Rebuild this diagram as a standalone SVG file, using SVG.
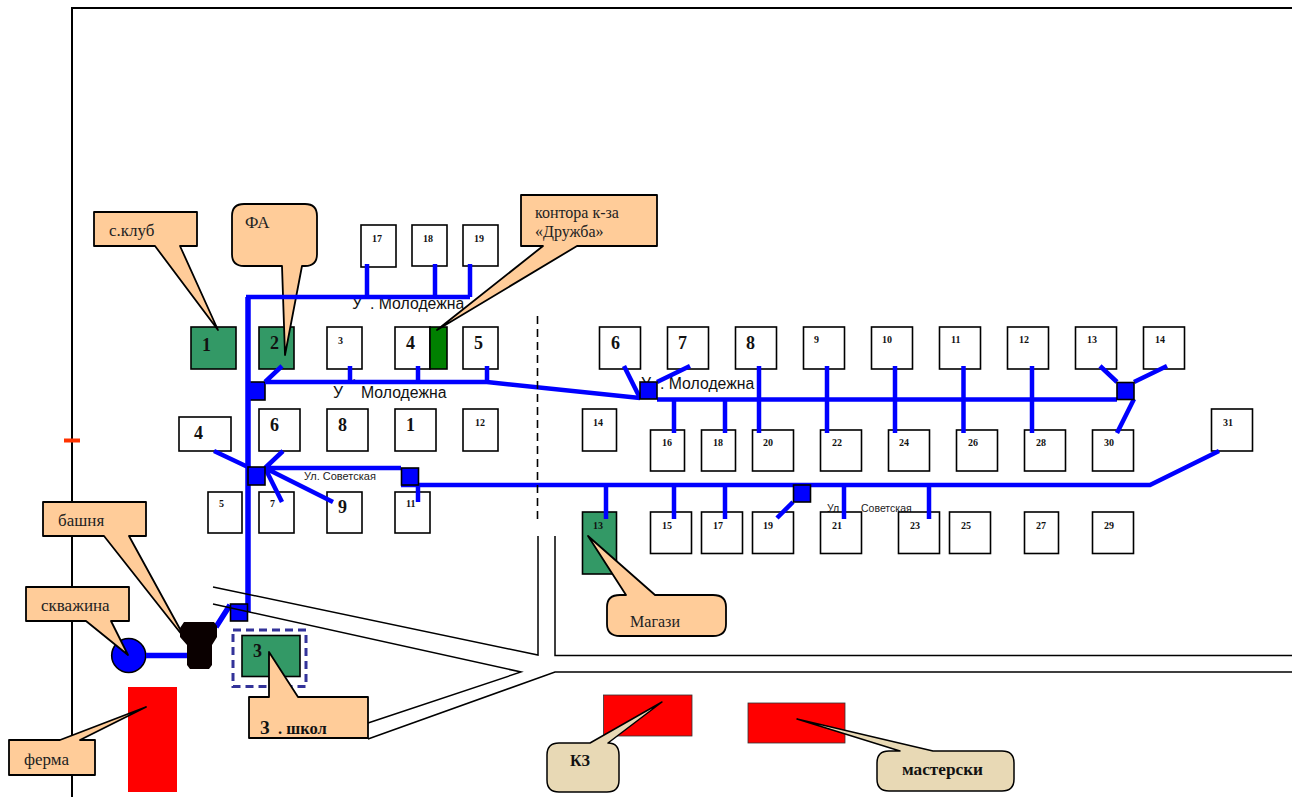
<svg xmlns="http://www.w3.org/2000/svg" width="1292" height="797" viewBox="0 0 1292 797">
<style>
.ln{fill:none;stroke:#000;stroke-width:2}
.h{fill:#fff;stroke:#000;stroke-width:1.6}
.g{fill:#339966;stroke:#000;stroke-width:1.6}
.r{fill:#f00}
.c{fill:#ffcc99;stroke:#000;stroke-width:1.8;stroke-linejoin:round}
.e{fill:#e8d9b5;stroke:#000;stroke-width:1.5;stroke-linejoin:round}
.p{fill:none;stroke:#00f;stroke-width:4.5}
.m{fill:none;stroke:#00f;stroke-width:5.5}
.j{fill:#00f;stroke:#000;stroke-width:1.6}
.b{font:bold 18px "Liberation Serif",serif;fill:#111}
.s{font:bold 10px "Liberation Serif",serif;fill:#111}
.l{font:17px "Liberation Serif",serif;fill:#222}
.st{font:15.800px "Liberation Sans",sans-serif;fill:#111}
.sm{font:11px "Liberation Sans",sans-serif;fill:#222}
</style>
<g id="frame">
<path class="ln" d="M72 797V8H1292"/>
<path d="M64 440.500H80" stroke="#ff3300" stroke-width="4" fill="none"/>
</g>
<g id="street-labels">
<text class="st" x="352" y="309">У</text>
<text class="st" x="370" y="309">. Молодежна</text>
<text class="st" x="333" y="398">У</text>
<text class="st" x="352" y="381">.</text>
<text class="st" x="361" y="398">Молодежна</text>
<text class="st" x="641" y="389">У</text>
<text class="st" x="660" y="389">. Молодежна</text>
<text class="sm" x="304" y="480">Ул. Советская</text>
<text class="sm" style="font-size:10.500px" x="827" y="512">Ул</text>
<text class="sm" style="font-size:10.500px" x="861" y="512">Советская</text>
</g>
<g id="n-1"><rect class="g" x="191" y="327" width="45" height="42"/><text class="b" x="202" y="351">1</text></g>
<g id="n-2"><rect class="g" x="259" y="327" width="35" height="42"/><text class="b" x="270" y="349">2</text></g>
<g id="n-3"><rect class="h" x="327" y="327" width="35" height="42"/><text class="s" x="338" y="344">3</text></g>
<g id="n-4"><rect class="h" x="395" y="327" width="35" height="42"/><text class="b" x="406" y="349">4</text></g>
<g id="n-kontora"><rect x="430" y="327" width="17" height="42" fill="#008000" stroke="#000" stroke-width="1.600"/></g>
<g id="n-5"><rect class="h" x="463" y="327" width="35" height="42"/><text class="b" x="474" y="349">5</text></g>
<g id="n-17"><rect class="h" x="361" y="225" width="35" height="42"/><text class="s" x="372" y="242">17</text></g>
<g id="n-18"><rect class="h" x="412" y="225" width="35" height="41"/><text class="s" x="423" y="242">18</text></g>
<g id="n-19"><rect class="h" x="463" y="225" width="35" height="41"/><text class="s" x="474" y="242">19</text></g>
<g id="n-4b"><rect class="h" x="179" y="417" width="52" height="34"/><text class="b" x="194" y="439">4</text></g>
<g id="n-6"><rect class="h" x="259" y="409" width="41" height="42"/><text class="b" x="270" y="431">6</text></g>
<g id="n-8"><rect class="h" x="327" y="409" width="41" height="42"/><text class="b" x="338" y="431">8</text></g>
<g id="n-1b"><rect class="h" x="395" y="409" width="41" height="42"/><text class="b" x="406" y="431">1</text></g>
<g id="n-12"><rect class="h" x="463" y="409" width="35" height="42"/><text class="s" x="475" y="426">12</text></g>
<g id="n-5b"><rect class="h" x="208" y="492" width="34" height="41"/><text class="s" x="219" y="507">5</text></g>
<g id="n-7"><rect class="h" x="259" y="492" width="35" height="41"/><text class="s" x="270" y="507">7</text></g>
<g id="n-9"><rect class="h" x="327" y="492" width="35" height="41"/><text class="b" x="338" y="513">9</text></g>
<g id="n-11"><rect class="h" x="395" y="492" width="35" height="41"/><text class="s" x="406" y="507">11</text></g>
<g id="n-6r"><rect class="h" x="599.500" y="327" width="41" height="42"/><text class="b" x="611" y="349">6</text></g>
<g id="n-7r"><rect class="h" x="667.500" y="327" width="41" height="42"/><text class="b" x="678" y="349">7</text></g>
<g id="n-8r"><rect class="h" x="735.500" y="327" width="41" height="42"/><text class="b" x="746" y="349">8</text></g>
<g id="n-9r"><rect class="h" x="803.500" y="327" width="41" height="42"/><text class="s" x="814" y="343">9</text></g>
<g id="n-10r"><rect class="h" x="871.500" y="327" width="41" height="42"/><text class="s" x="882" y="343">10</text></g>
<g id="n-11r"><rect class="h" x="939.500" y="327" width="41" height="42"/><text class="s" x="951" y="343">11</text></g>
<g id="n-12r"><rect class="h" x="1007.500" y="327" width="41" height="42"/><text class="s" x="1019" y="343">12</text></g>
<g id="n-13r"><rect class="h" x="1075.500" y="327" width="41" height="42"/><text class="s" x="1087" y="343">13</text></g>
<g id="n-14r"><rect class="h" x="1143.500" y="327" width="41" height="42"/><text class="s" x="1155" y="343">14</text></g>
<g id="n-14"><rect class="h" x="582.500" y="409" width="34" height="42"/><text class="s" x="593" y="426">14</text></g>
<g id="n-16"><rect class="h" x="650.500" y="430" width="34" height="41"/><text class="s" x="662" y="446">16</text></g>
<g id="n-18r"><rect class="h" x="701.500" y="430" width="34" height="41"/><text class="s" x="713" y="446">18</text></g>
<g id="n-20"><rect class="h" x="752.500" y="430" width="41" height="41"/><text class="s" x="763" y="446">20</text></g>
<g id="n-22"><rect class="h" x="820.500" y="430" width="41" height="41"/><text class="s" x="832" y="446">22</text></g>
<g id="n-24"><rect class="h" x="888.500" y="430" width="41" height="41"/><text class="s" x="899" y="446">24</text></g>
<g id="n-26"><rect class="h" x="956.500" y="430" width="41" height="41"/><text class="s" x="968" y="446">26</text></g>
<g id="n-28"><rect class="h" x="1024.500" y="430" width="41" height="41"/><text class="s" x="1036" y="446">28</text></g>
<g id="n-30"><rect class="h" x="1092.500" y="430" width="41" height="41"/><text class="s" x="1104" y="446">30</text></g>
<g id="n-31"><rect class="h" x="1211.500" y="409" width="41" height="42"/><text class="s" x="1223" y="426">31</text></g>
<g id="n-13"><rect class="g" x="582.500" y="512" width="34" height="62"/><text class="s" x="593" y="529">13</text></g>
<g id="n-15"><rect class="h" x="650.500" y="512" width="41" height="41.500"/><text class="s" x="662" y="529">15</text></g>
<g id="n-17r"><rect class="h" x="701.500" y="512" width="41" height="41.500"/><text class="s" x="713" y="529">17</text></g>
<g id="n-19r"><rect class="h" x="752.500" y="512" width="41" height="41.500"/><text class="s" x="763" y="529">19</text></g>
<g id="n-21"><rect class="h" x="820.500" y="512" width="41" height="41.500"/><text class="s" x="832" y="529">21</text></g>
<g id="n-23"><rect class="h" x="898.500" y="512" width="41" height="41.500"/><text class="s" x="910" y="529">23</text></g>
<g id="n-25"><rect class="h" x="949.500" y="512" width="41" height="41.500"/><text class="s" x="961" y="529">25</text></g>
<g id="n-27"><rect class="h" x="1024.500" y="512" width="34" height="41.500"/><text class="s" x="1036" y="529">27</text></g>
<g id="n-29"><rect class="h" x="1092.500" y="512" width="41" height="41.500"/><text class="s" x="1104" y="529">29</text></g>
<g id="well"><circle cx="128.700" cy="655.500" r="17" fill="#00f" stroke="#000" stroke-width="1.600"/></g>
<g id="school"><rect x="233" y="630" width="73" height="56.500" fill="none" stroke="#333399" stroke-width="3" stroke-dasharray="8 5"/><rect class="g" x="242" y="635.500" width="58" height="41"/><text class="b" x="253" y="657">3</text></g>
<g id="ferma-building"><rect class="r" x="128" y="687" width="49" height="105"/></g>
<g id="kz-building"><rect class="r" x="603.500" y="695" width="88.500" height="41" stroke="#333" stroke-width="0.800"/></g>
<g id="mast-building"><rect class="r" x="748" y="703" width="97" height="40" stroke="#333" stroke-width="0.800"/></g>
<g id="klub-callout"><path class="c" d="M94 212H197V246H180L218 330L155 246H94Z"/><text class="l" x="109" y="236">с.клуб</text></g>
<g id="fa-callout"><path class="c" d="M244 204H305Q317 204 317 216V254Q317 266 305 266H302L285 355L282 266H244Q232 266 232 254V216Q232 204 244 204Z"/><text class="l" x="245" y="228">ФА</text></g>
<g id="kontora-callout"><path class="c" d="M521 195H657V246H577L437 330L543 246H521Z"/><text class="l" style="font-size:16px" x="535" y="218">контора к-за</text><text class="l" style="font-size:16px" x="535" y="237">«Дружба»</text></g>
<g id="bashnya-callout"><path class="c" d="M43 502H146V536H129L186 640L104 536H43Z"/><text class="l" x="58" y="526">башня</text></g>
<g id="skv-callout"><path class="c" d="M26 587H129V621H111L128 655L86 621H26Z"/><text class="l" x="41" y="611">скважина</text></g>
<g id="school-callout"><path class="c" d="M249 697H269V652L298 697H368V738H249Z"/><text class="b" x="260" y="734">З</text><text class="b" style="font-size:16.500px" x="278" y="734">. школ</text></g>
<g id="ferma-callout"><path class="c" d="M9 740H60L146 707L80 740H95V775H9Z"/><text class="l" x="24" y="765">ферма</text></g>
<g id="magazin-callout"><path class="c" d="M620 595H626L588 536L655 595H713Q726 595 726 607V624Q726 636 713 636H620Q607 636 607 624V607Q607 595 620 595Z"/><text class="l" style="font-size:16.500px" x="630" y="627" textLength="50" lengthAdjust="spacingAndGlyphs">Магази</text></g>
<g id="kz-callout"><path class="e" d="M559 743H590L662 702L608 743Q619 743 619 755V780Q619 792 607 792H559Q547 792 547 780V755Q547 743 559 743Z"/><text class="b" style="font-size:17px" x="570" y="766" textLength="20" lengthAdjust="spacingAndGlyphs">КЗ</text></g>
<g id="mast-callout"><path class="e" d="M889 751H900L797 719L933 751H1002Q1014 751 1014 763V779Q1014 791 1002 791H889Q877 791 877 779V763Q877 751 889 751Z"/><text class="b" style="font-size:17px" x="902" y="775" textLength="81" lengthAdjust="spacingAndGlyphs">мастерски</text></g>
<g id="junction-top"><rect class="j" x="248" y="382" width="17" height="18"/></g>
<g id="connectors">
<path class="m" d="M248 612V297"/>
<path class="p" d="M246 297H470M367 264V297M435 264V297M470 264V297"/>
<path class="p" d="M265 382H487L640 398M350 366V382M418 366V382M487 366V382M282 366L265 382"/>
<path class="p" d="M214 451L250 468M283 451L265 468M265 468L282 502M265 468L333 502M265 468H401M401 485H1150L1219 451M418 485V502"/>
<path class="p" d="M657 399.500H1117M624 366L640 398M690 366L657 382M759 366V433M827 366V433M895 366V433M963.500 366V433M1032 366V433M674 399V433M725 399V433"/>
<path class="p" d="M1100 366L1117 382M1167 366L1134 382M1134 399L1117 433"/>
<path class="p" d="M606 485V519M674 485V519M725 485V519M844 485V519M929 485V519M777 518L793 502"/>
<path class="m" d="M146 655.500H190M216 627L230 605"/>
</g>
<g id="junctions">
<rect class="j" x="248" y="467" width="17" height="18"/>
<rect class="j" x="401.500" y="468" width="17" height="17"/>
<rect class="j" x="640" y="382" width="17" height="17"/>
<rect class="j" x="793.500" y="485" width="17" height="17"/>
<rect class="j" x="1117" y="382.500" width="17" height="17"/>
<rect class="j" x="230.500" y="604" width="17" height="17"/>
</g>
<g id="tower"><path fill="#0a0000" d="M184 622H214L217 626V637L212 645V665L209 669H190L187 665V645L180 637V628Z"/></g>
<g id="roads">
<path class="ln" style="stroke-width:1.500" d="M213 587L538 655V536"/>
<path class="ln" style="stroke-width:1.500" d="M213 604L521 672L368 723M368 739L555 672H1292M555 536V655.500H1292"/>
<path d="M537.500 316V522" fill="none" stroke="#000" stroke-width="1.600" stroke-dasharray="8 5"/>
</g>
</svg>
